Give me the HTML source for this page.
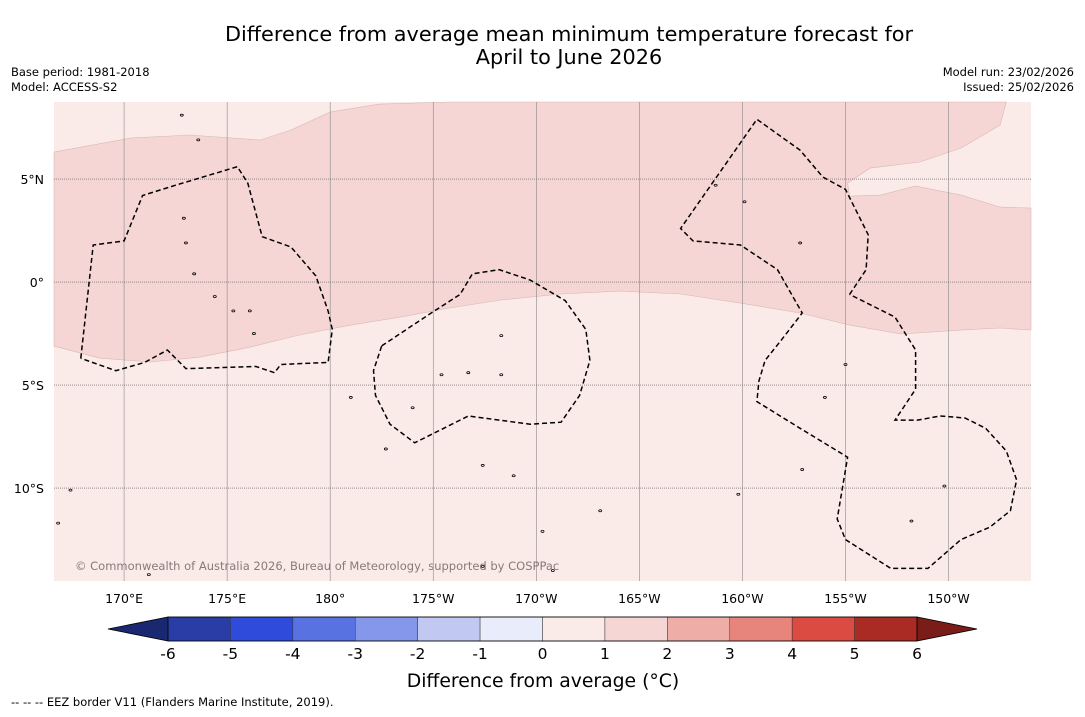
<!DOCTYPE html>
<html><head><meta charset="utf-8"><style>
body{margin:0;background:#fff;font-family:"DejaVu Sans","Liberation Sans",sans-serif;}
</style></head><body>
<svg width="1085" height="713" xmlns="http://www.w3.org/2000/svg" style="font-family:'DejaVu Sans','Liberation Sans',sans-serif">
<rect width="1085" height="713" fill="#fff"/>
<text x="569" y="41" font-size="20.8" text-anchor="middle">Difference from average mean minimum temperature forecast for</text>
<text x="569" y="64" font-size="20.8" text-anchor="middle">April to June 2026</text>
<text x="11" y="76" font-size="11.5">Base period: 1981-2018</text>
<text x="11" y="91" font-size="11.5">Model: ACCESS-S2</text>
<text x="1074" y="76" font-size="11.5" text-anchor="end">Model run: 23/02/2026</text>
<text x="1074" y="91" font-size="11.5" text-anchor="end">Issued: 25/02/2026</text>
<g id="map"></g>
<g id="cbar"></g>
<text x="543" y="687" font-size="18.8" text-anchor="middle">Difference from average (°C)</text>
<text x="11" y="706" font-size="11.5">--  --  -- EEZ border V11 (Flanders Marine Institute, 2019).</text>
</svg>
<script>
const NS="http://www.w3.org/2000/svg";
const lonTicks=[170,175,180,185,190,195,200,205,210];
const lonLabels=["170°E","175°E","180°","175°W","170°W","165°W","160°W","155°W","150°W"];
const latTicks=[5,0,-5,-10];
const latLabels=["5°N","0°","5°S","10°S"];
const anomalyContour=[[166.6,6.31],[170.3,6.99],[173.2,7.14],[176.6,6.89],[178.1,7.38],[180,8.25],[182.4,8.64],[185.8,8.74],[212.8,8.74],[212.5,7.62],[210.6,6.5],[208.6,5.83],[206.2,5.53],[205.1,4.81],[205.2,4.17],[206.7,4.22],[208.4,4.66],[210.6,4.22],[212.5,3.64],[214,3.59],[214,-2.33],[212.5,-2.23],[210.6,-2.33],[207.7,-2.52],[205.2,-2.09],[202.8,-1.5],[199.9,-1.02],[197,-0.58],[194.1,-0.44],[191.2,-0.58],[188.3,-0.87],[185.8,-1.26],[183.4,-1.7],[181,-2.09],[178.5,-2.57],[176.1,-3.16],[173.7,-3.64],[171.3,-3.88],[168.8,-3.69],[166.6,-3.11]];
const eezA=[[167.9,-3.7],[168.5,1.8],[170,2],[170.9,4.2],[172.5,4.7],[175.5,5.6],[176,4.8],[176.7,2.2],[178.1,1.7],[179.3,0.3],[179.9,-1.4],[180.1,-2.3],[179.9,-3.9],[177.6,-4],[177.3,-4.4],[176.4,-4.1],[173,-4.2],[172.1,-3.3],[171,-3.9],[169.6,-4.3],[167.9,-3.7]];
const eezB=[[182.5,-3.1],[184.9,-1.5],[186.3,-0.6],[186.9,0.4],[188.2,0.6],[189.7,0.1],[191.4,-0.9],[192.4,-2.3],[192.6,-3.8],[192.1,-5.5],[191.2,-6.8],[189.7,-6.9],[186.7,-6.5],[184.1,-7.8],[182.9,-6.9],[182.2,-5.5],[182.1,-4.3],[182.5,-3.1]];
const eezC=[[205.2,-0.6],[206,0.6],[206.1,2.3],[205,4.5],[203.9,5.1],[202.8,6.4],[200.7,7.9],[197,2.6],[197.6,2],[199.9,1.8],[201.7,0.6],[202.9,-1.5],[201.9,-2.8],[201.1,-3.8],[200.8,-4.8],[200.7,-5.8],[202.8,-7.1],[205.1,-8.5],[204.6,-11.5],[205,-12.5],[207.2,-13.9],[209,-13.9],[210.6,-12.5],[212,-11.9],[213,-11.1],[213.3,-9.6],[212.8,-8.2],[211.8,-7.1],[210.8,-6.6],[209.6,-6.5],[208.5,-6.7],[207.4,-6.7],[208.4,-5.2],[208.4,-3.3],[207.4,-1.7],[206.2,-1.1],[205.2,-0.6]];
const islands=[[172.9,3.1],[173,1.9],[173.4,0.4],[174.4,-0.7],[175.3,-1.4],[176.1,-1.4],[176.3,-2.5],[181,-5.6],[182.7,-8.1],[184,-6.1],[185.4,-4.5],[186.7,-4.4],[188.3,-2.6],[188.3,-4.5],[187.4,-8.9],[188.9,-9.4],[190.3,-12.1],[193.1,-11.1],[200.1,3.9],[202.8,1.9],[198.7,4.7],[199.8,-10.3],[202.9,-9.1],[205,-4],[204,-5.6],[209.8,-9.9],[208.2,-11.6],[187.4,-13.8],[190.8,-14],[172.8,8.1],[173.6,6.9],[171.2,-14.2],[167.4,-10.1],[166.8,-11.7]];
const cbLevels=[-6,-5,-4,-3,-2,-1,0,1,2,3,4,5,6];
const cbColors=["#2a3ca6","#2e4bdc","#5872e2","#8497ea","#c1c9f2","#e9ecfa","#fbebe8","#f5d6d5","#eeaea7","#e7847c","#dc4b41","#aa2b24"];
const cbLow="#1a2872", cbHigh="#7a1c17";
const X0=54,X1=1031,Y0=102,Y1=581;
const lonMin=166.6,lonMax=214,latMax=8.74,latMin=-14.51;
const px=l=>X0+(l-lonMin)/(lonMax-lonMin)*(X1-X0);
const py=l=>Y0+(latMax-l)/(latMax-latMin)*(Y1-Y0);
const map=document.getElementById('map');
function mk(t,a,p){const e=document.createElementNS(NS,t);for(const k in a)e.setAttribute(k,a[k]);(p||map).appendChild(e);return e;}
const bg=mk('rect',{x:X0,y:Y0,width:X1-X0,height:Y1-Y0,fill:'#fbebe8'});


const pts=a=>a.map(p=>px(p[0]).toFixed(1)+','+py(p[1]).toFixed(1)).join(' ');
const cont=mk('polygon',{points:pts(anomalyContour),fill:'#f5d6d5',stroke:'#d8b8b6','stroke-width':0.6});


lonTicks.forEach((l,i)=>{
 const ln=mk('line',{x1:px(l),x2:px(l),y1:Y0,y2:Y1,stroke:'#888','stroke-width':0.6});
 
 
 const t=mk('text',{x:px(l),y:603,'font-size':12.5,'text-anchor':'middle'});t.textContent=lonLabels[i];
 
 
});
latTicks.forEach((l,i)=>{
 const ln=mk('line',{x1:X0,x2:X1,y1:py(l),y2:py(l),stroke:'#555','stroke-width':0.6,'stroke-dasharray':'1,1'});
 
 
 const t=mk('text',{x:44,y:py(l)+5,'font-size':12.5,'text-anchor':'end'});t.textContent=latLabels[i];
 
 
});
[eezA,eezB,eezC].forEach(a=>{
 const p=mk('polyline',{points:pts(a),fill:'none',stroke:'#000','stroke-width':1.5,'stroke-dasharray':'5,3'});
 
 
});
islands.forEach(s=>{
 const c=mk('ellipse',{cx:px(s[0]),cy:py(s[1]),rx:1.5,ry:1,fill:'none',stroke:'#000','stroke-width':0.8});
 
 
});
const cp=mk('text',{x:75,y:570,'font-size':11.5,fill:'#8a7877'});cp.textContent='© Commonwealth of Australia 2026, Bureau of Meteorology, supported by COSPPac';


const cb=document.getElementById('cbar');
const C0=168,C1=917,CY=617,CH=24;
const cx=v=>C0+(v-cbLevels[0])/(cbLevels[cbLevels.length-1]-cbLevels[0])*(C1-C0);
const lo=mk('polygon',{points:`${C0},${CY} ${C0},${CY+CH} 108,${CY+CH/2}`,fill:cbLow,stroke:'#000','stroke-width':0.8},cb);


const hi=mk('polygon',{points:`${C1},${CY} ${C1},${CY+CH} 977,${CY+CH/2}`,fill:cbHigh,stroke:'#000','stroke-width':0.8},cb);


cbColors.forEach((c,i)=>{
 const r=mk('rect',{x:cx(cbLevels[i]),y:CY,width:cx(cbLevels[i+1])-cx(cbLevels[i]),height:CH,fill:c,stroke:'#333','stroke-width':0.5},cb);
 
 
});
const fr=mk('rect',{x:C0,y:CY,width:C1-C0,height:CH,fill:'none',stroke:'#000','stroke-width':0.8},cb);


cbLevels.forEach(v=>{
 const t=mk('text',{x:cx(v),y:659,'font-size':15.5,'text-anchor':'middle'},cb);t.textContent=String(v);
 
 
});
</script>
</body></html>
